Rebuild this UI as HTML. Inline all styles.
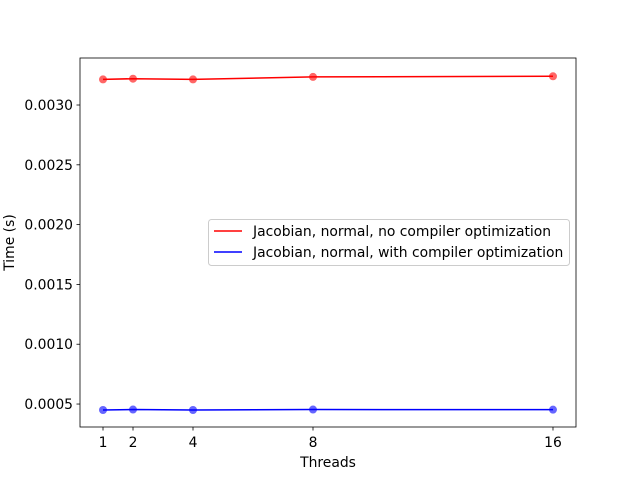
<!DOCTYPE html>
<html><head><meta charset="utf-8"><style>
body{margin:0;background:#fff;}
svg{display:block;font-family:"DejaVu Sans","Liberation Sans",sans-serif;}
</style></head><body>
<svg id="chart" width="640" height="480"></svg>
<script>
const threads=[1,2,4,8,16];
const noOpt=[0.003214,0.003220,0.003214,0.003235,0.003240];
const withOpt=[0.000450,0.000454,0.000450,0.000454,0.000453];
const yTicks=[0.0005,0.0010,0.0015,0.0020,0.0025,0.0030];
const yTickLabels=["0.0005","0.0010","0.0015","0.0020","0.0025","0.0030"];
const xTicks=[1,2,4,8,16];

const L=80,R=576,T=58,B=427;
const xMin=0.233,xMax=16.767,yMin=0.000308,yMax=0.003393;
const xs=v=>L+(v-xMin)/(xMax-xMin)*(R-L);
const ys=v=>B-(v-yMin)/(yMax-yMin)*(B-T);
const svg=document.getElementById('chart');
const NS='http://www.w3.org/2000/svg';
function mk(tag,attrs,parent){const e=document.createElementNS(NS,tag);for(const k in attrs)e.setAttribute(k,attrs[k]);(parent||svg).appendChild(e);return e;}
const FS=13.9;

yTicks.forEach((v,i)=>{
  const y=ys(v);
  const t=mk('line',{x1:L-3.5,x2:L,y1:y,y2:y,stroke:'#000','stroke-width':0.8});
  
  
  const tx=mk('text',{x:L-7,y:y+5,'text-anchor':'end','font-size':FS});
  tx.textContent=yTickLabels[i];
  
  
});
xTicks.forEach(v=>{
  const x=xs(v);
  const t=mk('line',{x1:x,x2:x,y1:B,y2:B+3.5,stroke:'#000','stroke-width':0.8});
  
  
  const tx=mk('text',{x:x,y:B+20,'text-anchor':'middle','font-size':FS});
  tx.textContent=v;
  
  
});

function series(vals,color,name){
  const pts=threads.map((t,i)=>xs(t)+','+ys(vals[i])).join(' ');
  const pl=mk('polyline',{points:pts,fill:'none',stroke:color,'stroke-width':1.5});
  
  
  threads.forEach((t,i)=>{
    const c=mk('circle',{cx:xs(t),cy:ys(vals[i]),r:4,fill:color,'fill-opacity':0.6});
    
    
  });
}
series(noOpt,'#ff0000','no-opt');
series(withOpt,'#0000ff','with-opt');

const frame=mk('rect',{x:L,y:T,width:R-L,height:B-T,fill:'none',stroke:'#000','stroke-width':0.8});



const xl=mk('text',{x:(L+R)/2,y:467,'text-anchor':'middle','font-size':FS});
xl.textContent='Threads';


const yl=mk('text',{x:14,y:(T+B)/2,'text-anchor':'middle','font-size':FS,transform:'rotate(-90 14 '+((T+B)/2)+')'});
yl.textContent='Time (s)';



const lg=mk('g',{});


mk('rect',{x:208.5,y:219.5,width:361,height:46,rx:3,fill:'#fff','fill-opacity':0.8,stroke:'#ccc'},lg);
[['#ff0000','Jacobian, normal, no compiler optimization',236],['#0000ff','Jacobian, normal, with compiler optimization',257]].forEach(([c,txt,y])=>{
  const e=mk('g',{},lg);
  
  
  mk('line',{x1:214,x2:242,y1:y-5,y2:y-5,stroke:c,'stroke-width':1.5},e);
  const t=mk('text',{x:253,y:y,'font-size':FS},e);
  t.textContent=txt;
});
</script>
</body></html>
